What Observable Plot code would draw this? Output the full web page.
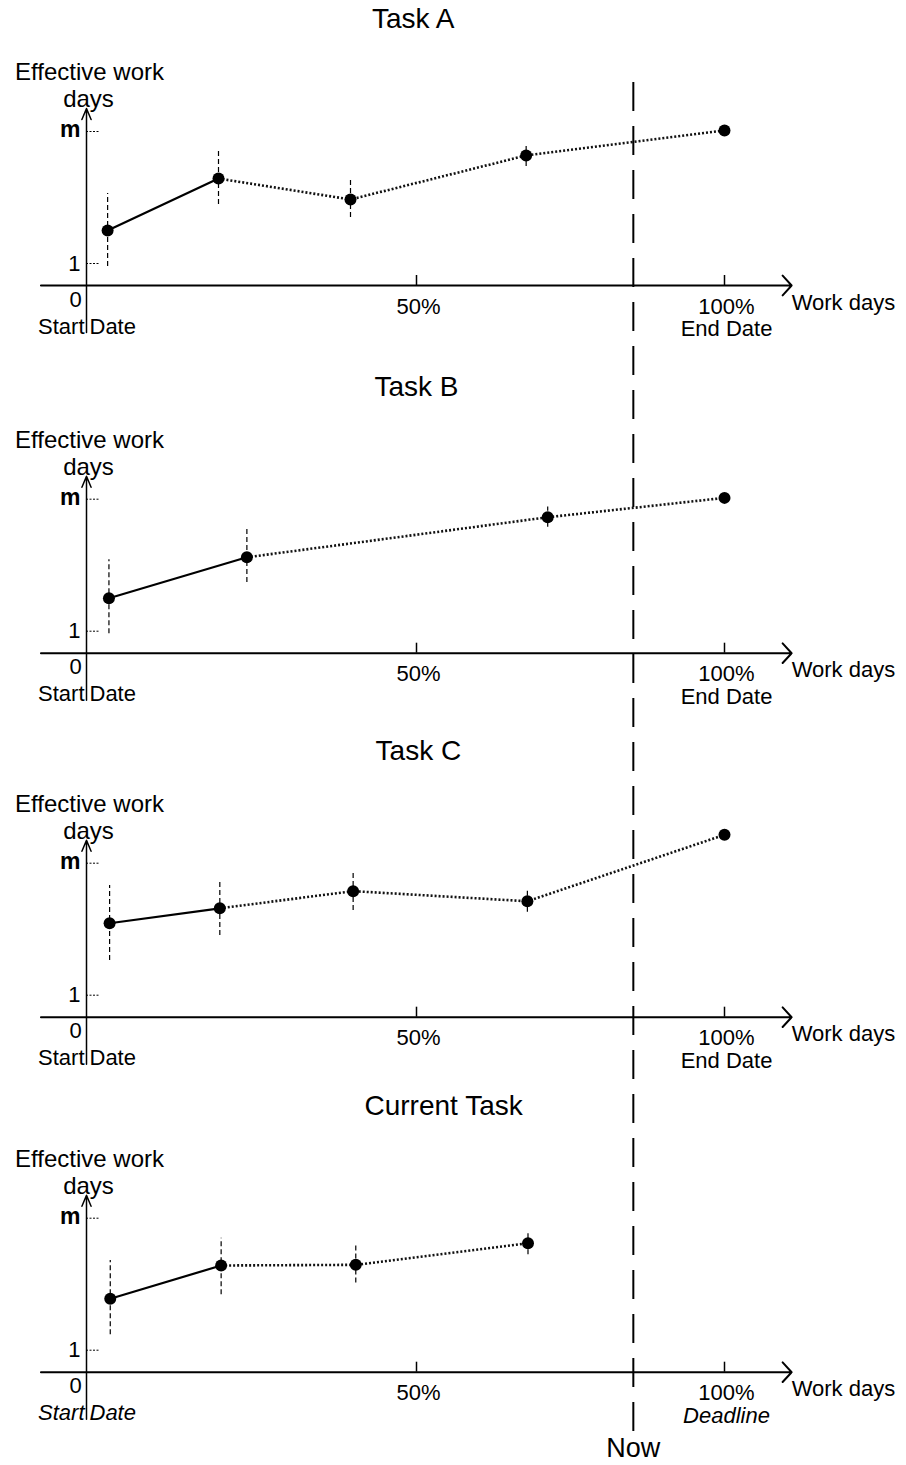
<!DOCTYPE html>
<html>
<head>
<meta charset="utf-8">
<script src="https://cdn.jsdelivr.net/npm/d3@7"></script>
<script src="https://cdn.jsdelivr.net/npm/@observablehq/plot@0.6"></script>
<style>
  html, body { margin: 0; padding: 0; background: #fff; }
  svg { display: block; }
</style>
</head>
<body>
<div id="chart"></div>
<script>
// ---------------- data ----------------
const panelTitles = ["Task A", "Task B", "Task C", "Current Task"];
const endLabels = ["End Date", "End Date", "End Date", "Deadline"];
const xTickValues = [50, 100];
const xTickLabels = ["50%", "100%"];
const yTickValues = [1, 7];           // "m" drawn at 7 units
const yTickLabels = ["1", "m"];
const nowProgress = 85.2;             // % of work days

const taskA_progress = [3.2, 20, 40, 67.8, 100];
const taskA_days     = [2.5, 4.86, 3.91, 5.91, 7.05];
const taskA_low      = [0.86, 3.68, 3.09, 5.41, null];
const taskA_high     = [4.18, 6.09, 4.77, 6.32, null];

const taskB_progress = [3.4, 24.3, 71.3, 100];
const taskB_days     = [2.5, 4.36, 6.18, 7.06];
const taskB_low      = [0.88, 3.21, 5.73, null];
const taskB_high     = [4.25, 5.76, 6.64, null];

const taskC_progress = [3.5, 20.2, 40.4, 68, 100];
const taskC_days     = [4.27, 4.95, 5.73, 5.27, 8.29];
const taskC_low      = [2.58, 3.71, 4.85, 4.77, null];
const taskC_high     = [5.99, 6.21, 6.59, 5.76, null];

const current_progress = [3.6, 20.4, 40.8, 68.1];
const current_days     = [3.34, 4.85, 4.88, 5.86];
const current_low      = [1.7, 3.52, 4.06, 5.34];
const current_high     = [5.08, 6.09, 5.79, 6.29];

// ---------------- layout ----------------
const W = 906, H = 1465;
const PX_PER_UNIT = 22;
const panelBase = [285, 652.7, 1016.7, 1371.7].map(p => p / PX_PER_UNIT); // baseline of each panel, in units from top
const titleX = [49.5, 50, 50.3, 54.4];
const FONT = "'Liberation Sans', Arial, Helvetica, sans-serif";

const series = [
  {progress: taskA_progress, days: taskA_days, low: taskA_low, high: taskA_high},
  {progress: taskB_progress, days: taskB_days, low: taskB_low, high: taskB_high},
  {progress: taskC_progress, days: taskC_days, low: taskC_low, high: taskC_high},
  {progress: current_progress, days: current_days, low: current_low, high: current_high}
];

const points = [];
series.forEach((s, i) => s.progress.forEach((p, j) => {
  points.push({
    panel: i, idx: j, x: p,
    y: panelBase[i] - s.days[j],
    y1: s.low[j] == null ? null : panelBase[i] - s.low[j],
    y2: s.high[j] == null ? null : panelBase[i] - s.high[j]
  });
}));

const panels = [0, 1, 2, 3];
const xTicks = [], yTicks = [];
panels.forEach(i => {
  xTickValues.forEach((v, k) => xTicks.push({panel: i, x: v, label: xTickLabels[k]}));
  yTickValues.forEach((v, k) => yTicks.push({panel: i, y: panelBase[i] - v, label: yTickLabels[k]}));
});

const u = px => px / PX_PER_UNIT;
const C = v => () => v;

const chart = Plot.plot({
  width: W, height: H,
  marginTop: 0, marginRight: 0, marginBottom: 0, marginLeft: 0,
  style: {fontFamily: FONT, fontSize: "22px", background: "#fff", color: "#000"},
  x: {type: "linear", domain: [0, 50, 100], range: [86, 416, 724], axis: null},
  y: {type: "linear", domain: [0, H / PX_PER_UNIT], range: [0, H], axis: null},
  marks: [
    // axes
    Plot.arrow(panels, {x1: C(-6.9), x2: C(110.9), y1: i => panelBase[i], y2: i => panelBase[i],
      headAngle: 95, headLength: 10, stroke: "#000", strokeWidth: 2}),
    Plot.arrow(panels, {x1: C(0), x2: C(0), y1: i => panelBase[i] + u(47), y2: i => panelBase[i] - u(177),
      headAngle: 45, headLength: 12, stroke: "#000", strokeWidth: 1.5}),
    Plot.ruleX(xTicks, {x: "x", y1: d => panelBase[d.panel], y2: d => panelBase[d.panel] - u(10), stroke: "#000", strokeWidth: 1.5}),
    Plot.ruleY(yTicks, {y: "y", x1: C(0), x2: C(2.1), stroke: "#000", strokeWidth: 1, strokeDasharray: "2,1.5", strokeLinecap: "butt"}),

    // error bars
    Plot.ruleX(points.filter(d => d.y1 != null), {x: "x", y1: "y1", y2: "y2", stroke: "#000", strokeWidth: 1.2, strokeDasharray: "5,3", strokeLinecap: "butt"}),
    // first segment solid, remaining dotted
    Plot.line(points.filter(d => d.idx <= 1), {x: "x", y: "y", z: "panel", stroke: "#000", strokeWidth: 2.2}),
    Plot.line(points.filter(d => d.idx >= 1), {x: "x", y: "y", z: "panel", stroke: "#111", strokeWidth: 2.6, strokeDasharray: "2,2", strokeLinecap: "butt"}),
    Plot.dot(points, {x: "x", y: "y", r: 6, fill: "#000", stroke: "none"}),

    // Now line
    Plot.ruleX([nowProgress], {y1: C(panelBase[0] - u(203)), y2: C(panelBase[3] + u(65)), stroke: "#000", strokeWidth: 2, strokeDasharray: "29,15", strokeLinecap: "butt"}),
    Plot.text([nowProgress], {x: d => d, y: C(panelBase[3] + u(76)), text: C("Now"), fontSize: 27, fill: "#000"}),

    // titles
    Plot.text(panels, {x: i => titleX[i], y: i => panelBase[i] - u(266), text: i => panelTitles[i], fontSize: 28, fill: "#000"}),
    // y axis label
    Plot.text(panels, {x: C(0), y: i => panelBase[i] - u(213), text: C("Effective work"), dx: 3, fontSize: 24, fill: "#000"}),
    Plot.text(panels, {x: C(0), y: i => panelBase[i] - u(186), text: C("days"), dx: 2, fontSize: 24, fill: "#000"}),
    // y tick labels
    Plot.text(yTicks.filter(d => d.label !== "m"), {x: C(0), y: "y", text: "label", textAnchor: "end", dx: -6, fontSize: 22, fill: "#000"}),
    Plot.text(yTicks.filter(d => d.label === "m"), {x: C(0), y: d => d.y - u(2), text: "label", textAnchor: "end", dx: -6, fontSize: 23, fontWeight: "bold", fill: "#000"}),
    // origin and start date
    Plot.text(panels, {x: C(0), y: i => panelBase[i] + u(14), text: C("0"), dx: -11, fontSize: 22, fill: "#000"}),
    Plot.text(panels.filter(i => i < 3), {x: C(0), y: i => panelBase[i] + u(41), text: C("Start"), textAnchor: "end", dx: -2, fontSize: 22, fill: "#000"}),
    Plot.text(panels.filter(i => i < 3), {x: C(0), y: i => panelBase[i] + u(41), text: C("Date"), textAnchor: "start", dx: 3, fontSize: 22, fill: "#000"}),
    Plot.text(panels.filter(i => i === 3), {x: C(0), y: i => panelBase[i] + u(41), text: C("Start"), textAnchor: "end", dx: -2, fontSize: 22, fontStyle: "italic", fill: "#000"}),
    Plot.text(panels.filter(i => i === 3), {x: C(0), y: i => panelBase[i] + u(41), text: C("Date"), textAnchor: "start", dx: 3, fontSize: 22, fontStyle: "italic", fill: "#000"}),
    // x tick labels
    Plot.text(xTicks, {x: "x", y: d => panelBase[d.panel] + u(21), text: "label", dx: 2, fontSize: 22, fill: "#000"}),
    Plot.text(panels.filter(i => i < 3), {x: C(100), y: i => panelBase[i] + u(43.5), text: i => endLabels[i], dx: 2, fontSize: 22, fill: "#000"}),
    Plot.text(panels.filter(i => i === 3), {x: C(100), y: i => panelBase[i] + u(43.5), text: i => endLabels[i], dx: 2, fontSize: 22, fontStyle: "italic", fill: "#000"}),
    // x axis title
    Plot.text(panels, {x: C(110.9), y: i => panelBase[i] + u(17), text: C("Work days"), textAnchor: "start", dx: 0, fontSize: 22, fill: "#000"})
  ]
});

document.getElementById("chart").appendChild(chart);
</script>
</body>
</html>
